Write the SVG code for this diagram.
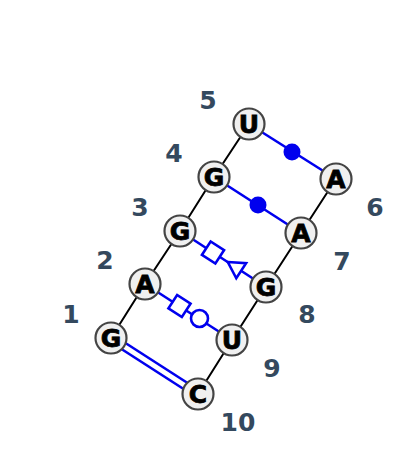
<svg xmlns="http://www.w3.org/2000/svg" width="400" height="471" viewBox="0 0 400 471">
<style>
.bb{stroke:#000;stroke-width:2;fill:none}
.bp{stroke:#0000ee;stroke-width:2.6;fill:none}
.gl{stroke:#0000ee;stroke-width:2.6;fill:#fff}
.dot{fill:#0000ee;stroke:none}
.nd circle{fill:#f0f0f0;stroke:#444;stroke-width:2.2}
.nd text{font-family:"DejaVu Sans",sans-serif;font-weight:bold;font-size:25px;fill:#000;stroke:#000;stroke-width:0.8;text-anchor:middle}
.lb{font-family:"DejaVu Sans",sans-serif;font-weight:bold;font-size:25px;fill:#34495e;text-anchor:middle}
</style>
<g id="connectors">
<polyline class="bb" points="111,338 145,284 180,231 214,177 249,124"/>
<polyline class="bb" points="336,179 301,233 266,287 232,340 198,394"/>
<line class="bp" x1="249" y1="124" x2="336" y2="179"/>
<circle class="dot" cx="292" cy="152" r="8.5"/>
<line class="bp" x1="214" y1="177" x2="301" y2="233"/>
<circle class="dot" cx="258" cy="205" r="8.5"/>
<line class="bp" x1="180" y1="231" x2="266" y2="287"/>
<rect class="gl" x="-8" y="-8" width="16" height="16" transform="translate(213,252.5) rotate(33)"/>
<polygon class="gl" points="-11,0 5,-9 5,9" transform="translate(237,268) rotate(33)"/>
<line class="bp" x1="145" y1="284" x2="232" y2="340"/>
<rect class="gl" x="-8" y="-8" width="16" height="16" transform="translate(179.5,306) rotate(33)"/>
<circle class="gl" cx="199.5" cy="318.5" r="8.5"/>
<line class="bp" x1="113" y1="335" x2="200" y2="391"/>
<line class="bp" x1="109" y1="341" x2="196" y2="397"/>
</g>
<g id="n1" class="nd"><circle cx="111" cy="338" r="15.5"/><text x="111" y="347">G</text></g>
<g id="n2" class="nd"><circle cx="145" cy="284" r="15.5"/><text x="145" y="293">A</text></g>
<g id="n3" class="nd"><circle cx="180" cy="231" r="15.5"/><text x="180" y="240">G</text></g>
<g id="n4" class="nd"><circle cx="214" cy="177" r="15.5"/><text x="214" y="186">G</text></g>
<g id="n5" class="nd"><circle cx="249" cy="124" r="15.5"/><text x="249" y="133">U</text></g>
<g id="n6" class="nd"><circle cx="336" cy="179" r="15.5"/><text x="336" y="188">A</text></g>
<g id="n7" class="nd"><circle cx="301" cy="233" r="15.5"/><text x="301" y="242">A</text></g>
<g id="n8" class="nd"><circle cx="266" cy="287" r="15.5"/><text x="266" y="296">G</text></g>
<g id="n9" class="nd"><circle cx="232" cy="340" r="15.5"/><text x="232" y="349">U</text></g>
<g id="n10" class="nd"><circle cx="198" cy="394" r="15.5"/><text x="198" y="403">C</text></g>
<g id="labels">
<text class="lb" x="71" y="323">1</text>
<text class="lb" x="105" y="269">2</text>
<text class="lb" x="140" y="216">3</text>
<text class="lb" x="174" y="162">4</text>
<text class="lb" x="208" y="109">5</text>
<text class="lb" x="375" y="216">6</text>
<text class="lb" x="342" y="270">7</text>
<text class="lb" x="307" y="323">8</text>
<text class="lb" x="272" y="377">9</text>
<text class="lb" x="238" y="431">10</text>
</g>
</svg>
